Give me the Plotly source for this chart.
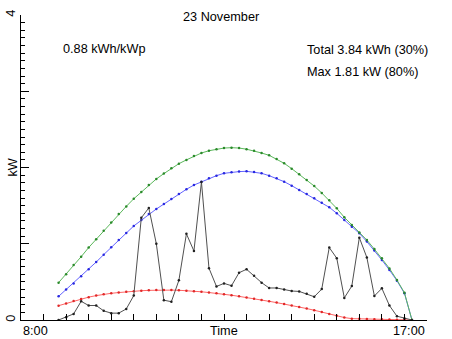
import plotly.graph_objects as go

# Sample times (10-minute intervals) for 23 November
times = [f"{(8 * 60 + 50 + 10 * k) // 60:02d}:{(8 * 60 + 50 + 10 * k) % 60:02d}" for k in range(48)]

# Measured PV output (kW)
measured = [0, 0.035, 0.08, 0.245, 0.19, 0.19, 0.12, 0.09, 0.09, 0.145,
            0.32, 1.34, 1.47, 1.0, 0.26, 0.24, 0.52, 1.13, 0.905, 1.81,
            0.68, 0.44, 0.48, 0.45, 0.62, 0.665, 0.58, 0.49, 0.42, 0.42,
            0.40, 0.38, 0.375, 0.345, 0.305, 0.405, 0.95, 0.81, 0.29, 0.445,
            1.08, 0.82, 0.315, 0.415, 0.19, 0.05, 0.02, 0]

# Clear-sky reference curves (kW)
clear_green = [0.49, 0.60, 0.72, 0.83, 0.95, 1.06, 1.17, 1.28, 1.39, 1.49,
               1.59, 1.68, 1.77, 1.85, 1.92, 1.99, 2.05, 2.10, 2.15, 2.19,
               2.22, 2.24, 2.255, 2.26, 2.255, 2.24, 2.22, 2.19, 2.16, 2.11,
               2.055, 1.985, 1.91, 1.836, 1.757, 1.666, 1.57, 1.464, 1.347, 1.246,
               1.149, 1.049, 0.93, 0.809, 0.677, 0.525, 0.358, 0]
clear_blue = [0.31, 0.40, 0.48, 0.575, 0.665, 0.76, 0.857, 0.955, 1.05, 1.14,
              1.233, 1.31, 1.39, 1.456, 1.52, 1.587, 1.653, 1.714, 1.77, 1.814,
              1.858, 1.893, 1.924, 1.937, 1.946, 1.95, 1.941, 1.924, 1.893, 1.858,
              1.814, 1.762, 1.705, 1.652, 1.596, 1.539, 1.478, 1.399, 1.312, 1.224,
              1.137, 1.028, 0.91, 0.787, 0.656, 0.516, 0.35, 0]
diffuse_red = [0.188, 0.218, 0.25, 0.277, 0.30, 0.32, 0.337, 0.35, 0.36, 0.37,
               0.377, 0.384, 0.389, 0.392, 0.393, 0.392, 0.39, 0.385, 0.378, 0.37,
               0.36, 0.35, 0.338, 0.325, 0.31, 0.296, 0.28, 0.263, 0.245, 0.228,
               0.21, 0.19, 0.17, 0.15, 0.128, 0.104, 0.08, 0.055, 0.032, 0.018,
               0.015, 0.013, 0.011, 0.009, 0.007, 0.004, 0.002, 0]

title_text = "23 November"
yield_text = "0.88 kWh/kWp"
total_text = "Total 3.84 kWh (30%)"
max_text = "Max 1.81 kW (80%)"
x_start, x_end = "8:00", "17:00"


def to_hours(t):
    h, m = t.split(":")
    return int(h) + int(m) / 60


x = [to_hours(t) for t in times]
FONT = "Liberation Sans, Arial, Helvetica, sans-serif"

fig = go.Figure()


def add_series(values, line_color, marker_color):
    fig.add_trace(go.Scatter(
        x=x, y=values, mode="lines+markers",
        line=dict(color=line_color, width=1),
        marker=dict(color=marker_color, size=2.5),
        hoverinfo="skip", showlegend=False,
    ))


add_series(diffuse_red, "#ff6464", "#e02828")
add_series(clear_blue, "#6464ff", "#2828e0")
add_series(clear_green, "#5cb85c", "#2a8a2a")
add_series(measured, "#505050", "#202020")

annotations = [
    dict(text=title_text, x=0.495, y=0.992, xanchor="center"),
    dict(text=yield_text, x=0.0985, y=0.890, xanchor="left"),
    dict(text=total_text, x=0.6995, y=0.885, xanchor="left"),
    dict(text=max_text, x=0.6995, y=0.813, xanchor="left"),
    dict(text=x_start, x=0.0, y=0, yshift=-11, xanchor="left"),
    dict(text="Time", x=0.5, y=0, yshift=-11, xanchor="center"),
    dict(text=x_end, x=1.0, y=0, yshift=-11, xanchor="right"),
    dict(text="kW", x=0.0, xshift=-9, y=0.5, xanchor="center", textangle=-90),
]
for a in annotations:
    a.update(xref="paper", yref="paper", yanchor="middle", showarrow=False,
             font=dict(family=FONT, size=12.7, color="black"))

fig.update_layout(
    width=452, height=339,
    margin=dict(l=21, r=25, t=15, b=19, autoexpand=False),
    paper_bgcolor="white", plot_bgcolor="white",
    font=dict(family=FONT, size=12.7, color="black"),
    annotations=annotations,
    xaxis=dict(
        range=[8, 17], showgrid=False, zeroline=False,
        showline=True, linecolor="black", linewidth=1,
        tickvals=[8 + 0.5 * k for k in range(19)],
        ticks="inside", ticklen=6, tickcolor="black", tickwidth=1,
        showticklabels=False,
    ),
    yaxis=dict(
        range=[0, 4], showgrid=False, zeroline=False,
        showline=True, linecolor="black", linewidth=1,
        tickvals=[0, 1, 2, 3, 4], ticktext=["0", "", "", "", "4"],
        tickangle=-90, ticks="inside", ticklen=8, tickcolor="black", tickwidth=1,
        minor=dict(dtick=0.1, ticks="inside", ticklen=4, tickcolor="black", tickwidth=1),
        tickfont=dict(family=FONT, size=12.7),
    ),
)

fig.write_html("out.html")
